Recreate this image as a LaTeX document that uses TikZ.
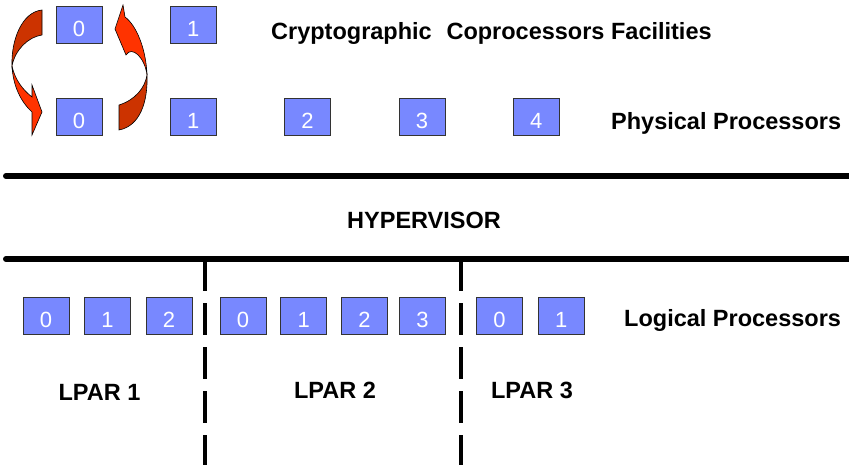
\documentclass[tikz,border=0pt]{standalone}
\usepackage{fontspec}
\setmainfont{Liberation Sans}
\usepackage{tikz}
\usetikzlibrary{positioning}
\definecolor{CpuBlue}{RGB}{120,136,255}
\definecolor{RibbonRed}{RGB}{255,51,0}
\definecolor{RibbonDark}{RGB}{204,51,0}

\begin{document}
\begin{tikzpicture}[
  x=1pt, y=-1pt,
  cpu/.style={draw=black!80, line width=0.8pt, fill=CpuBlue, minimum width=46pt, minimum height=37pt, inner sep=0pt, text=white, text height=24pt, text depth=0pt, font=\fontsize{22}{24}\selectfont},
  heading/.style={inner sep=0pt, font=\fontsize{23.5}{28}\selectfont\bfseries},
  bar/.style={line width=6pt, line cap=round},
  split/.style={line width=4pt, dash pattern=on 32pt off 12pt},
  ribbon/.style={draw=black, line width=0.6pt}
]
\useasboundingbox (0,0) rectangle (849,465);

% physical processors and the crypto facilities above them
\node[cpu] (p0) at (79,116.5) {0};
\node[cpu, right=67.5pt of p0] (p1) {1};
\node[cpu, right=67.5pt of p1] (p2) {2};
\node[cpu, right=67.5pt of p2] (p3) {3};
\node[cpu, right=67.5pt of p3] (p4) {4};
\node[cpu, above=54pt of p0] (c0) {0};
\node[cpu, above=54pt of p1] (c1) {1};

\node[heading, anchor=base west] (crypto) at (271,39.5) {Cryptographic\hspace{0.35em} Coprocessors Facilities};
\node[heading, anchor=base west] (phys) at (611,129.3) {Physical Processors};

% swap arrows between crypto 0 and processor 0
\fill[RibbonDark, ribbon] (12,66) .. controls (11,40) and (22,12) .. (42,10) -- (42,35) .. controls (28,37) and (15,50) .. (12,66) -- cycle;
\fill[RibbonRed, ribbon] (12,66) .. controls (13,86) and (21,102) .. (32,112) -- (32,135) -- (42,112) -- (32,85) -- (32,97) .. controls (23,90) and (15,80) .. (12,66) -- cycle;
\fill[RibbonDark, ribbon] (119,105) .. controls (135,100) and (145,88) .. (147,75) .. controls (148,102) and (140,126) .. (119,130) -- cycle;
\fill[RibbonRed, ribbon] (147,75) .. controls (146,48) and (136,25) .. (125,17) -- (123,5) -- (115,29) -- (126,55) .. controls (132,45) and (145,58) .. (147,75) -- cycle;

% hypervisor layer
\draw[bar] (6,176) -- (855,176);
\draw[bar] (6,259) -- (855,259);
\node[heading, anchor=base west] (hyp) at (347,228.3) {HYPERVISOR};

% logical partitions
\draw[split] (205,259) -- (205,470);
\draw[split] (461,259) -- (461,470);

\node[cpu] (a0) at (46,315.5) {0};
\node[cpu, right=14.7pt of a0] (a1) {1};
\node[cpu, right=14.7pt of a1] (a2) {2};
\node[cpu] (b0) at (243,315.5) {0};
\node[cpu, right=14pt of b0] (b1) {1};
\node[cpu, right=14pt of b1] (b2) {2};
\node[cpu, right=11pt of b2] (b3) {3};
\node[cpu] (d0) at (499.5,315.5) {0};
\node[cpu, right=15pt of d0] (d1) {1};

\node[heading, anchor=base west] (logic) at (624,326.5) {Logical Processors};
\node[heading, anchor=base] (lpar1) at (99.5,400) {LPAR 1};
\node[heading, anchor=base] (lpar2) at (335,398) {LPAR 2};
\node[heading, anchor=base] (lpar3) at (532,398) {LPAR 3};
\end{tikzpicture}
\end{document}
